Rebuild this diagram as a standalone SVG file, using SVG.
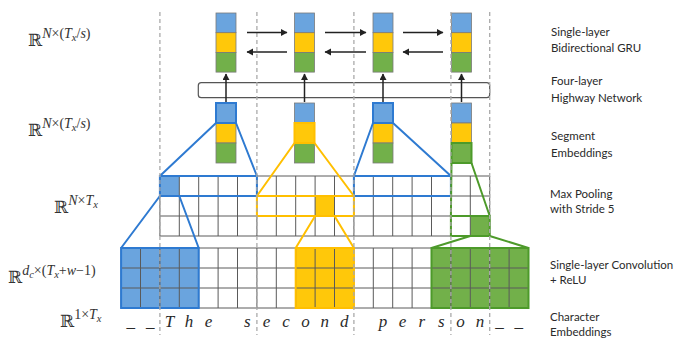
<svg xmlns="http://www.w3.org/2000/svg" width="678" height="340" viewBox="0 0 678 340">
<style>
.bb{font-family:"DejaVu Serif",serif;font-size:17px;fill:#333}
.si{font-family:"Liberation Serif",serif;font-style:italic;font-size:14px}
.sn{font-family:"Liberation Serif",serif;font-style:normal;font-size:14px}
.sb{font-family:"Liberation Serif",serif;font-style:italic;font-size:10.5px}
.lbl{font-family:"Lato","Liberation Sans",sans-serif;font-size:11.5px;fill:#2a2a2a}
.ch{font-family:"Liberation Serif",serif;font-style:italic;font-size:17px;fill:#2a2a2a;text-anchor:middle}
.grid{fill:none;stroke:#5a5a5a;stroke-width:1}
.dash{stroke:#aaa;stroke-width:1.3;stroke-dasharray:4 3;fill:none}
.cb{fill:#6aa4de}.cy{fill:#ffc80a}.cg{fill:#72b04a}
.cell{stroke:#7a7a7a;stroke-width:0.8}
.ob{fill:none;stroke:#2e7ad1;stroke-width:2}
.oy{fill:none;stroke:#ffbf00;stroke-width:2}
.og{fill:none;stroke:#4d9a2a;stroke-width:2}
.arr{stroke:#222;stroke-width:1.5;fill:none;marker-end:url(#ah)}
</style>
<defs>
<marker id="ah" markerUnits="userSpaceOnUse" markerWidth="8" markerHeight="8" refX="6" refY="3.5" orient="auto">
<path d="M0,0 L6.5,3.5 L0,7 Z" fill="#222"/>
</marker>
</defs>
<rect width="678" height="340" fill="#fff"/>

<g id="left-labels">
<text class="bb" x="28" y="46">ℝ<tspan class="si" dy="-8">N</tspan><tspan class="sn">×(</tspan><tspan class="si">T</tspan><tspan class="sb" dy="3">x</tspan><tspan class="sn" dy="-3">/</tspan><tspan class="si">s</tspan><tspan class="sn">)</tspan></text>
<text class="bb" x="28" y="136">ℝ<tspan class="si" dy="-8">N</tspan><tspan class="sn">×(</tspan><tspan class="si">T</tspan><tspan class="sb" dy="3">x</tspan><tspan class="sn" dy="-3">/</tspan><tspan class="si">s</tspan><tspan class="sn">)</tspan></text>
<text class="bb" x="54" y="213">ℝ<tspan class="si" dy="-8">N</tspan><tspan class="sn">×</tspan><tspan class="si">T</tspan><tspan class="sb" dy="3">x</tspan></text>
<text class="bb" x="8" y="283">ℝ<tspan class="si" dy="-8">d</tspan><tspan class="sb" dy="3">c</tspan><tspan class="sn" dy="-3">×(</tspan><tspan class="si">T</tspan><tspan class="sb" dy="3">x</tspan><tspan class="sn" dy="-3">+</tspan><tspan class="si">w</tspan><tspan class="sn">−1)</tspan></text>
<text class="bb" x="60" y="327">ℝ<tspan class="sn" dy="-8">1×</tspan><tspan class="si">T</tspan><tspan class="sb" dy="3">x</tspan></text>
</g>

<g id="right-labels">
<text class="lbl" x="551" y="36">Single-layer</text>
<text class="lbl" x="551" y="52">Bidirectional GRU</text>
<text class="lbl" x="551" y="85">Four-layer</text>
<text class="lbl" x="551" y="101.5">Highway Network</text>
<text class="lbl" x="551" y="140">Segment</text>
<text class="lbl" x="551" y="157">Embeddings</text>
<text class="lbl" x="550" y="197.5">Max Pooling</text>
<text class="lbl" x="550" y="213">with Stride 5</text>
<text class="lbl" x="550" y="268.5">Single-layer Convolution</text>
<text class="lbl" x="550" y="283.5">+ ReLU</text>
<text class="lbl" x="550" y="321">Character</text>
<text class="lbl" x="550" y="336">Embeddings</text>
</g>

<g id="fills">
<rect class="cb" x="121.1" y="248" width="77.6" height="60"/>
<rect class="cy" x="295.7" y="248" width="58.2" height="60"/>
<rect class="cg" x="431.5" y="248" width="97" height="60"/>
<rect class="cb" x="159.9" y="176" width="19.4" height="20"/>
<rect class="cy" x="315.1" y="196" width="19.4" height="20"/>
<rect class="cg" x="470.3" y="216" width="19.4" height="20"/>
</g>

<g id="pooling-grid">
<path class="grid" d="M159.9,176H489.7M159.9,196H489.7M159.9,216H489.7M159.9,236H489.7
M159.9,176V236M179.3,176V236M198.7,176V236M218.1,176V236M237.5,176V236M256.9,176V236M276.3,176V236M295.7,176V236M315.1,176V236M334.5,176V236M353.9,176V236M373.3,176V236M392.7,176V236M412.1,176V236M431.5,176V236M450.9,176V236M470.3,176V236M489.7,176V236"/>
</g>
<g id="conv-grid">
<path class="grid" d="M121.1,248H528.5M121.1,268H528.5M121.1,288H528.5M121.1,308H528.5
M121.1,248V308M140.5,248V308M159.9,248V308M179.3,248V308M198.7,248V308M218.1,248V308M237.5,248V308M256.9,248V308M276.3,248V308M295.7,248V308M315.1,248V308M334.5,248V308M353.9,248V308M373.3,248V308M392.7,248V308M412.1,248V308M431.5,248V308M450.9,248V308M470.3,248V308M489.7,248V308M509.1,248V308M528.5,248V308"/>
</g>

<g id="characters">
<text class="ch" x="130.8" y="327">_</text><text class="ch" x="150.2" y="327">_</text>
<text class="ch" x="169.6" y="327">T</text><text class="ch" x="189" y="327">h</text><text class="ch" x="208.4" y="327">e</text>
<text class="ch" x="247.2" y="327">s</text><text class="ch" x="266.6" y="327">e</text><text class="ch" x="286" y="327">c</text><text class="ch" x="305.4" y="327">o</text><text class="ch" x="324.8" y="327">n</text><text class="ch" x="344.2" y="327">d</text>
<text class="ch" x="383" y="327">p</text><text class="ch" x="402.4" y="327">e</text><text class="ch" x="421.8" y="327">r</text><text class="ch" x="441.2" y="327">s</text><text class="ch" x="460.6" y="327">o</text><text class="ch" x="480" y="327">n</text>
<text class="ch" x="499.4" y="327">_</text><text class="ch" x="518.8" y="327">_</text>
</g>

<g id="segment-1">
<rect class="cb cell" x="216" y="103" width="20" height="20"/><rect class="cy cell" x="216" y="123" width="20" height="20"/><rect class="cg cell" x="216" y="143" width="20" height="20"/>
</g>
<g id="segment-2">
<rect class="cb cell" x="294.5" y="103" width="20" height="20"/><rect class="cy cell" x="294.5" y="123" width="20" height="20"/><rect class="cg cell" x="294.5" y="143" width="20" height="20"/>
</g>
<g id="segment-3">
<rect class="cb cell" x="373" y="103" width="20" height="20"/><rect class="cy cell" x="373" y="123" width="20" height="20"/><rect class="cg cell" x="373" y="143" width="20" height="20"/>
</g>
<g id="segment-4">
<rect class="cb cell" x="451.5" y="103" width="20" height="20"/><rect class="cy cell" x="451.5" y="123" width="20" height="20"/><rect class="cg cell" x="451.5" y="143" width="20" height="20"/>
</g>

<g id="gru-1">
<rect class="cb cell" x="216" y="13" width="20" height="19.7"/><rect class="cy cell" x="216" y="32.7" width="20" height="19.7"/><rect class="cg cell" x="216" y="52.4" width="20" height="19.7"/>
</g>
<g id="gru-2">
<rect class="cb cell" x="294.5" y="13" width="20" height="19.7"/><rect class="cy cell" x="294.5" y="32.7" width="20" height="19.7"/><rect class="cg cell" x="294.5" y="52.4" width="20" height="19.7"/>
</g>
<g id="gru-3">
<rect class="cb cell" x="373" y="13" width="20" height="19.7"/><rect class="cy cell" x="373" y="32.7" width="20" height="19.7"/><rect class="cg cell" x="373" y="52.4" width="20" height="19.7"/>
</g>
<g id="gru-4">
<rect class="cb cell" x="451.5" y="13" width="20" height="19.7"/><rect class="cy cell" x="451.5" y="32.7" width="20" height="19.7"/><rect class="cg cell" x="451.5" y="52.4" width="20" height="19.7"/>
</g>

<g id="highway">
<rect x="198.3" y="82.7" width="291.4" height="15" rx="3" fill="#fff" stroke="#555" stroke-width="1.2"/>
</g>

<g id="highlights">
<rect class="ob" x="216" y="103" width="20" height="20"/>
<path class="ob" d="M216,123L159.9,176M236,123L256.9,176"/>
<rect class="ob" x="159.9" y="176" width="97" height="20"/>
<path class="ob" d="M159.9,196L121.1,248M179.3,196L198.7,248"/>
<rect class="ob" x="121.1" y="248" width="77.6" height="60"/>
<rect class="ob" x="373" y="103" width="20" height="20"/>
<path class="ob" d="M373,123L353.9,176M393,123L450.9,176"/>
<rect class="ob" x="353.9" y="176" width="97" height="20"/>
<rect class="oy" x="294.5" y="123" width="20" height="20"/>
<path class="oy" d="M294.5,143L256.9,196M314.5,143L353.9,196"/>
<rect class="oy" x="256.9" y="196" width="97" height="20"/>
<path class="oy" d="M315.1,216L295.7,248M334.5,216L353.9,248"/>
<rect class="oy" x="295.7" y="248" width="58.2" height="60"/>
<rect class="og" x="451.5" y="143" width="20" height="20"/>
<path class="og" d="M451.5,163L450.9,216M471.5,163L489.7,216"/>
<rect class="og" x="450.9" y="216" width="38.8" height="20"/>
<path class="og" d="M470.3,236L431.5,248M489.7,236L528.5,248"/>
<rect class="og" x="431.5" y="248" width="97" height="60"/>
</g>

<g id="dashed-lines">
<path class="dash" d="M159.9,12V335M256.9,12V335M353.9,12V335M450.9,12V335M489.7,12V335"/>
</g>

<g id="connectors">
<path class="arr" d="M226,102V74"/>
<path class="arr" d="M304.5,102V74"/>
<path class="arr" d="M383,102V74"/>
<path class="arr" d="M461.5,102V74"/>
<path class="arr" d="M247,32.5H287"/>
<path class="arr" d="M287,52H247"/>
<path class="arr" d="M325,32.5H366"/>
<path class="arr" d="M366,52H325"/>
<path class="arr" d="M403,32.5H443"/>
<path class="arr" d="M443,52H403"/>
</g>
</svg>
